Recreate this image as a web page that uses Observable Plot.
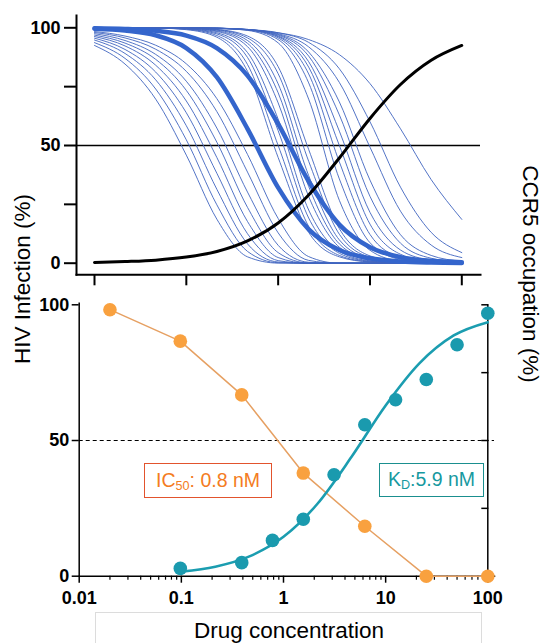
<!DOCTYPE html>
<html><head><meta charset="utf-8">
<script src="https://cdn.jsdelivr.net/npm/d3@7"></script>
<script src="https://cdn.jsdelivr.net/npm/@observablehq/plot@0.6"></script>
<style>
html,body{margin:0;padding:0;background:#fff;overflow:hidden;}
#wrap{position:relative;width:544px;height:643px;font-family:"Liberation Sans",Arial,sans-serif;overflow:hidden;}
#topPanel,#bottomPanel{position:absolute;left:0;}
#topPanel{top:0;} #bottomPanel{top:290px;}
.box{position:absolute;display:flex;align-items:center;justify-content:center;font-size:19.5px;box-sizing:border-box;white-space:nowrap;}
.box sub{font-size:0.65em;position:relative;top:0.45em;vertical-align:baseline;line-height:0;}
#xbox{position:absolute;left:94.7px;top:611.7px;width:387.6px;height:60px;border:1px solid #dcdcdc;box-sizing:border-box;}
</style></head><body>
<div id="wrap">
  <div id="xbox"></div>
  <div id="topPanel"></div>
  <div id="bottomPanel"></div>
  <div class="box" style="left:144px;top:463px;width:128px;height:35px;border:1.5px solid #e2532d;color:#f47c22;">IC<sub>50</sub>: 0.8&nbsp;nM</div>
  <div class="box" style="left:379px;top:462.5px;width:105px;height:34px;border:1.5px solid #1a8f8f;color:#17999f;">K<sub>D</sub>:5.9&nbsp;nM</div>
  <svg width="544" height="643" style="position:absolute;left:0;top:0;pointer-events:none;font-family:'Liberation Sans',Arial,sans-serif;">
    <text transform="translate(30,279) rotate(-90)" text-anchor="middle" font-size="22.5" fill="#000">HIV Infection (%)</text>
    <text transform="translate(523,274) rotate(90)" text-anchor="middle" font-size="22.5" fill="#000">CCR5 occupation (%)</text>
    <text x="289" y="638" text-anchor="middle" font-size="22.5" fill="#000">Drug concentration</text>
  </svg>
</div>
<script>
// ---- Top panel: simulated infection curves (values read at 1/3-decade concentrations) ----
const xSamples = [0.01, 0.0215, 0.0464, 0.1, 0.215, 0.464, 1, 2.15, 4.64, 10, 21.5, 46.4, 100];

const thinCurves = [
  [92.5, 84.6, 69.7, 45.9, 18.7, 2.7, 0.04, 0, 0, 0, 0, 0, 0],
  [93.7, 87.0, 74.0, 52.4, 24.8, 5.0, 0.2, 0, 0, 0, 0, 0, 0],
  [94.8, 89.1, 77.9, 58.4, 31.4, 8.2, 0.5, 0, 0, 0, 0, 0, 0],
  [95.6, 90.8, 81.2, 63.9, 38.2, 12.5, 1.1, 0, 0, 0, 0, 0, 0],
  [96.3, 92.3, 84.1, 68.9, 44.9, 17.7, 2.4, 0, 0, 0, 0, 0, 0],
  [96.9, 93.5, 86.6, 73.4, 51.4, 23.7, 4.5, 0.1, 0, 0, 0, 0, 0],
  [97.5, 94.6, 88.7, 77.3, 57.4, 30.2, 7.6, 0.4, 0, 0, 0, 0, 0],
  [98.0, 95.7, 90.9, 81.5, 64.4, 38.7, 12.9, 1.2, 0, 0, 0, 0, 0],
  [98.4, 96.5, 92.6, 84.7, 69.9, 46.2, 19.0, 2.8, 0, 0, 0, 0, 0],
  [100, 100, 99.9, 99.2, 96.0, 81.5, 44.9, 13.1, 2.7, 0.5, 0.1, 0, 0],
  [100, 100, 99.9, 99.4, 96.7, 84.4, 50.0, 15.6, 3.3, 0.6, 0.1, 0, 0],
  [100, 100, 99.9, 99.5, 97.4, 87.4, 56.3, 19.2, 4.2, 0.8, 0.15, 0, 0],
  [100, 100, 99.9, 99.6, 97.9, 89.5, 61.2, 22.6, 5.1, 1.0, 0.2, 0, 0],
  [100, 100, 99.95, 99.7, 98.4, 92.0, 68.1, 28.3, 6.8, 1.3, 0.25, 0.05, 0],
  [100, 100, 99.95, 99.8, 98.7, 93.4, 72.4, 32.6, 8.2, 1.6, 0.3, 0.06, 0],
  [100, 100, 99.96, 99.8, 99.0, 94.6, 76.2, 37.2, 9.9, 2.0, 0.4, 0.07, 0],
  [100, 100, 99.97, 99.85, 99.2, 95.7, 80.5, 43.3, 12.3, 2.5, 0.5, 0.09, 0],
  [100, 100, 99.98, 99.9, 99.3, 96.5, 83.5, 48.3, 14.7, 3.1, 0.6, 0.1, 0],
  [100, 100, 100, 99.97, 99.8, 98.9, 93.6, 69.7, 26.7, 5.5, 0.9, 0.14, 0.02],
  [100, 100, 100, 99.97, 99.85, 99.1, 95.0, 76.6, 35.8, 8.7, 1.6, 0.3, 0.05],
  [100, 100, 100, 99.96, 99.85, 99.2, 95.7, 80.4, 43.0, 12.2, 2.5, 0.5, 0.09],
  [100, 100, 100, 99.95, 99.8, 99.2, 96.2, 83.3, 50.0, 16.6, 3.8, 0.8, 0.16],
  [100, 100, 100, 99.95, 99.8, 99.2, 96.5, 85.6, 56.1, 21.6, 5.6, 1.3, 0.27],
  [100, 100, 99.99, 99.96, 99.8, 99.3, 96.9, 88.0, 63.0, 28.4, 8.5, 2.1, 0.5],
  [100, 100, 99.98, 99.95, 99.8, 99.3, 97.2, 89.7, 68.5, 35.3, 12.1, 3.3, 0.86],
  [100, 100, 99.98, 99.93, 99.8, 99.25, 97.5, 91.9, 76.8, 49.3, 22.1, 7.7, 2.4],
  [100, 99.99, 99.98, 99.93, 99.8, 99.3, 97.9, 93.8, 82.6, 60.1, 32.3, 13.1, 4.5],
  [100, 100, 99.9, 99.8, 99.6, 99.1, 97.9, 95.0, 88.6, 76.3, 57.1, 35.5, 18.6]
];
const thickCurves = [
  [99.6, 98.8, 96.8, 91.4, 79.0, 57.1, 32.1, 14.4, 5.6, 2.1, 0.75, 0.26, 0.09],
  [99.8, 99.5, 98.7, 96.7, 91.4, 79.7, 59.2, 34.8, 16.4, 6.8, 2.6, 1.0, 0.4]
];
const occupancyTop = [0.3, 0.7, 1.3, 2.6, 5.0, 9.5, 17.1, 29.0, 44.7, 61.5, 75.9, 86.2, 92.5];

// ---- Bottom panel: measured data ----
const ic50Conc = [0.02, 0.0977, 0.39, 1.5625, 6.25, 25, 100];
const ic50Infection = [98.2, 86.6, 66.8, 38.0, 18.4, 0, 0];
const kdConc = [0.0977, 0.39, 0.78, 1.5625, 3.125, 6.25, 12.5, 25, 50, 100];
const kdOccupancy = [2.9, 5.0, 13.2, 21.0, 37.4, 55.8, 65.0, 72.5, 85.3, 96.9];
const kdFitConc = [0.1, 0.215, 0.464, 1, 2.15, 4.64, 10, 21.5, 46.4, 100];
const kdFitOccupancy = [1.7, 3.5, 7.3, 14.5, 26.7, 44.0, 62.9, 78.5, 88.7, 93.6];

const majorTicks = [0.01, 0.1, 1, 10, 100];
const minorTicks = [];
for (const d of [0.01, 0.1, 1, 10]) for (let k = 2; k <= 9; k++) minorTicks.push(+(d * k).toPrecision(3));

(function () {
  const toRows = (curves) => curves.flatMap((vals, i) => vals.map((v, j) => ({x: xSamples[j], y: v, id: i})));
  const thinRows = toRows(thinCurves);
  const thickRows = toRows(thickCurves);
  const blackRows = occupancyTop.map((v, j) => ({x: xSamples[j], y: v}));

  const font = "'Liberation Sans', Arial, sans-serif";

  const topChart = Plot.plot({
    width: 544, height: 290,
    marginLeft: 76, marginRight: 64, marginTop: 15, marginBottom: 15.7,
    style: {fontFamily: font, color: "#000", background: "transparent", overflow: "visible"},
    x: {type: "log", domain: [0.01, 100], range: [94, 461.3], axis: null},
    y: {domain: [0, 100], range: [262.7, 27.3], axis: null},
    marks: [
      Plot.ruleY([50], {stroke: "#000", strokeWidth: 1.4}),
      Plot.line(thinRows, {x: "x", y: "y", z: "id", stroke: "#4064c0", strokeWidth: 0.9, curve: "monotone-x"}),
      Plot.line(thickRows, {x: "x", y: "y", z: "id", stroke: "#3465cc", strokeWidth: 4.5, curve: "monotone-x"}),
      Plot.line(blackRows, {x: "x", y: "y", stroke: "#000", strokeWidth: 3, curve: "monotone-x"}),
      Plot.frame({anchor: "left", strokeWidth: 2}),
      Plot.frame({anchor: "bottom", strokeWidth: 2}),
      Plot.axisY({ticks: [0, 25, 50, 75, 100], tickFormat: d => (d % 50 === 0 ? String(d) : ""), tickSize: 12, tickPadding: 4, strokeWidth: 2, fontSize: 18, fontWeight: "bold", label: null}),
      Plot.axisX({ticks: majorTicks, tickFormat: () => "", tickSize: 11, strokeWidth: 2, label: null})
    ]
  });
  document.getElementById("topPanel").appendChild(topChart);

  const ic50Rows = ic50Conc.map((c, i) => ({x: c, y: ic50Infection[i]}));
  const kdRows = kdConc.map((c, i) => ({x: c, y: kdOccupancy[i]}));
  const kdFitRows = kdFitConc.map((c, i) => ({x: c, y: kdFitOccupancy[i]}));

  const bottomChart = Plot.plot({
    width: 544, height: 353,
    marginLeft: 78.7, marginRight: 50, marginTop: 12.7, marginBottom: 67.3,
    style: {fontFamily: font, color: "#000", background: "transparent", overflow: "visible"},
    x: {type: "log", domain: [0.01, 100], range: [78.7, 487.3], axis: null},
    y: {domain: [0, 100], range: [285.7, 14.3], axis: null},
    marks: [
      Plot.ruleY([50], {stroke: "#000", strokeWidth: 1.2, strokeDasharray: "4,3"}),
      Plot.ruleX([100], {y1: 0, y2: 100, stroke: "#000", strokeWidth: 1.5}),
      Plot.frame({anchor: "left", strokeWidth: 1.5}),
      Plot.frame({anchor: "bottom", strokeWidth: 1.5}),
      Plot.axisY({ticks: [0, 50, 100], tickSize: 7, tickPadding: 3, strokeWidth: 1.5, fontSize: 18, fontWeight: "bold", label: null}),
      Plot.axisY({anchor: "right", ticks: [0, 25, 50, 75, 100], tickFormat: () => "", tickSize: 7, dx: -13.7, strokeWidth: 1.5, label: null}),
      Plot.axisX({ticks: majorTicks, tickFormat: d => String(d), tickSize: 7, tickPadding: 7.6, strokeWidth: 1.5, fontSize: 18, fontWeight: "bold", label: null}),
      Plot.axisX({ticks: minorTicks, tickFormat: () => "", tickSize: 4, strokeWidth: 1.2, label: null}),
      Plot.line(ic50Rows, {x: "x", y: "y", stroke: "#e6a062", strokeWidth: 1.5, curve: "linear"}),
      Plot.line(kdFitRows, {x: "x", y: "y", stroke: "#1b9db0", strokeWidth: 2.6, curve: "monotone-x"}),
      Plot.dot(ic50Rows, {x: "x", y: "y", fill: "#f9a13f", r: 6.8}),
      Plot.dot(kdRows, {x: "x", y: "y", fill: "#1a9aae", r: 6.8})
    ]
  });
  document.getElementById("bottomPanel").appendChild(bottomChart);
})();
</script>
</body></html>
